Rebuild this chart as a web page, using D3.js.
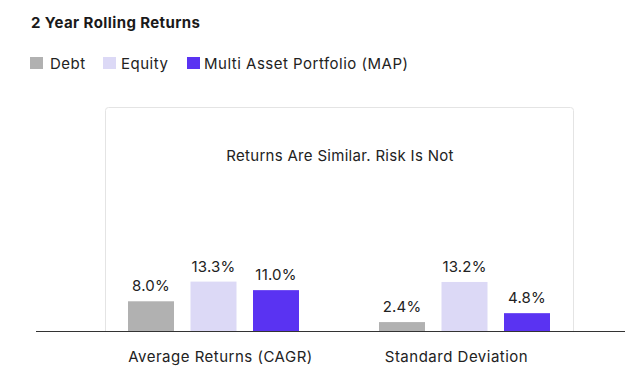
<!DOCTYPE html>
<html>
<head>
<meta charset="utf-8">
<script src="https://cdn.jsdelivr.net/npm/d3@7"></script>
<style>
  body { margin: 0; background: #fff; }
  svg { font-family: Inter, "DejaVu Sans", sans-serif; }
</style>
</head>
<body>
<div id="chart"></div>
<script>
var title = "2 Year Rolling Returns";
var subtitle = "Returns Are Similar. Risk Is Not";
var categories = ["Average Returns (CAGR)", "Standard Deviation"];
var series = ["Debt", "Equity", "Multi Asset Portfolio (MAP)"];
var debt = [8.0, 2.4];
var equity = [13.3, 13.2];
var map = [11.0, 4.8];
var colors = ["#b1b1b1", "#dcd9f6", "#5a33f2"];

var width = 641, height = 381;
var svg = d3.select("#chart").append("svg")
  .attr("width", width)
  .attr("height", height);

var values = [debt, equity, map];
var rows = [];
categories.forEach(function(c, i) {
  series.forEach(function(s, j) {
    rows.push({cat: c, ser: s, value: values[j][i], color: colors[j]});
  });
});

var baseY = 331;
var x0 = d3.scaleBand().domain(categories).range([88, 590]);
var x1 = d3.scalePoint().domain(series).range([-62.5, 62.5]);
var y = d3.scaleLinear().domain([0, 14]).range([baseY, baseY - 52]);
var barW = 46;

// title
svg.append("text")
  .attr("x", 31).attr("y", 28)
  .attr("font-size", 15).attr("font-weight", 700)
  .attr("letter-spacing", 0.4)
  .attr("fill", "#1a1a1a")
  .text(title);

// legend
var swX = [30, 103, 187];
var txX = [50, 121, 204];
var leg = svg.append("g").selectAll("g").data(series).join("g");
leg.append("rect")
  .attr("x", (d, i) => swX[i]).attr("y", 57)
  .attr("width", 13).attr("height", 12)
  .attr("fill", (d, i) => colors[i]);
leg.append("text")
  .attr("x", (d, i) => txX[i]).attr("y", 68.5)
  .attr("font-size", 15).attr("letter-spacing", 0.5).attr("fill", "#222")
  .text(d => d);

// panel
svg.append("rect")
  .attr("x", 105.5).attr("y", 107.5)
  .attr("width", 468).attr("height", 240)
  .attr("rx", 3)
  .attr("fill", "none").attr("stroke", "#e4e4e4");
svg.append("rect").attr("x", 100).attr("y", 332).attr("width", 480).attr("height", 20).attr("fill", "#fff");

svg.append("text")
  .attr("x", 340).attr("y", 161)
  .attr("text-anchor", "middle")
  .attr("font-size", 15).attr("letter-spacing", 0.3).attr("fill", "#222")
  .text(subtitle);

// bars
svg.append("g").selectAll("rect").data(rows).join("rect")
  .attr("x", d => x0(d.cat) + x0.bandwidth() / 2 + x1(d.ser) - barW / 2)
  .attr("y", d => y(d.value))
  .attr("width", barW)
  .attr("height", d => baseY - y(d.value))
  .attr("fill", d => d.color);

svg.append("g").selectAll("text").data(rows).join("text")
  .attr("x", d => x0(d.cat) + x0.bandwidth() / 2 + x1(d.ser))
  .attr("y", d => y(d.value) - 10)
  .attr("text-anchor", "middle")
  .attr("font-size", 15).attr("letter-spacing", 0.2).attr("fill", "#222")
  .text(d => d.value.toFixed(1) + "%");

// axis
svg.append("line")
  .attr("x1", 36).attr("x2", 625)
  .attr("y1", baseY + 0.5).attr("y2", baseY + 0.5)
  .attr("stroke", "#333");

var labelShift = [7, -8];
svg.append("g").selectAll("text").data(categories).join("text")
  .attr("x", (d, i) => x0(d) + x0.bandwidth() / 2 + labelShift[i])
  .attr("y", 362)
  .attr("text-anchor", "middle")
  .attr("font-size", 15).attr("letter-spacing", 0.5).attr("fill", "#222")
  .text(d => d);
</script>
</body>
</html>
